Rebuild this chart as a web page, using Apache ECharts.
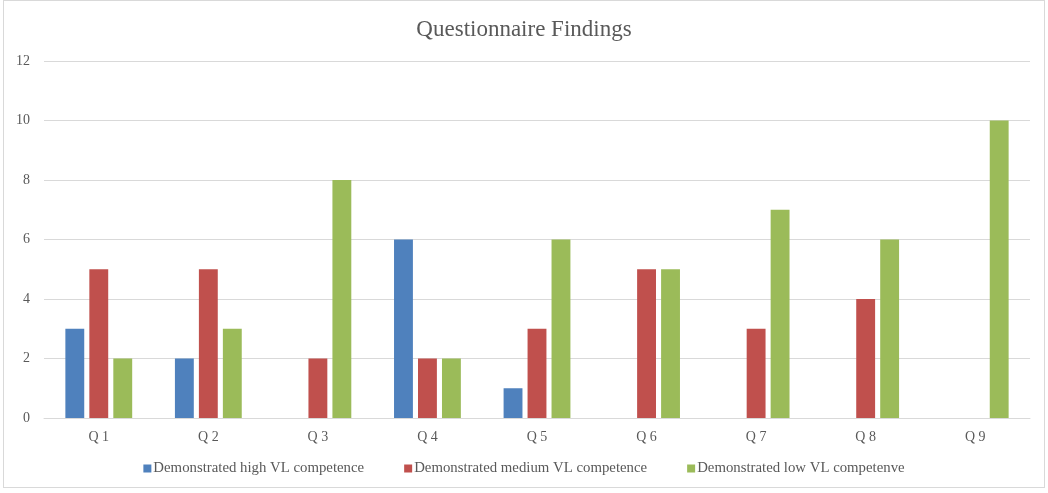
<!DOCTYPE html>
<html>
<head>
<meta charset="utf-8">
<script src="https://cdn.jsdelivr.net/npm/echarts@6/dist/echarts.min.js"></script>
<style>
html,body{margin:0;padding:0;background:#fff;}
#frame{position:absolute;left:3px;top:0px;width:1042px;height:488px;border:1px solid #d9d9d9;box-sizing:border-box;}
#chart{position:absolute;left:0;top:0;width:1048px;height:493px;}
</style>
</head>
<body>
<div id="frame"></div>
<div id="chart"></div>
<script>
const categories = ['Q 1','Q 2','Q 3','Q 4','Q 5','Q 6','Q 7','Q 8','Q 9'];
const highVL = [3, 2, 0, 6, 1, 0, 0, 0, 0];
const mediumVL = [5, 5, 2, 2, 3, 5, 3, 4, 0];
const lowVL = [2, 3, 8, 2, 6, 5, 7, 6, 10];
const seriesNames = ['Demonstrated high VL competence','Demonstrated medium VL competence','Demonstrated low VL competenve'];
const yTicks = [0, 2, 4, 6, 8, 10, 12];

const font = '"Liberation Serif", "DejaVu Serif", serif';
const chart = echarts.init(document.getElementById('chart'), null, {renderer:'canvas'});
chart.setOption({
  animation: false,
  title: {
    text: 'Questionnaire Findings',
    left: 'center',
    top: 13,
    textStyle: {fontFamily: font, fontSize: 23, fontWeight: 'normal', color: '#595959'}
  },
  legend: {
    bottom: 12,
    left: 'center',
    itemWidth: 8,
    itemHeight: 8,
    itemGap: 40,
    icon: 'rect',
    textStyle: {fontFamily: font, fontSize: 14.8, color: '#595959', padding: [0,0,0,-3]},
    data: seriesNames
  },
  grid: {left: 44, right: 18, top: 61, bottom: 75, containLabel: false},
  xAxis: {
    type: 'category',
    data: categories,
    axisLine: {lineStyle: {color: '#d9d9d9'}},
    axisTick: {show: false},
    axisLabel: {fontFamily: font, fontSize: 14, color: '#595959', margin: 12}
  },
  yAxis: {
    type: 'value',
    min: yTicks[0],
    max: yTicks[yTicks.length-1],
    interval: 2,
    axisLine: {show: false},
    axisTick: {show: false},
    splitLine: {lineStyle: {color: '#d9d9d9'}},
    axisLabel: {fontFamily: font, fontSize: 14, color: '#595959', margin: 14}
  },
  series: [
    {name: seriesNames[0], type: 'bar', data: highVL, itemStyle: {color: '#4f81bd'}, barGap: '27%', barCategoryGap: '39%'},
    {name: seriesNames[1], type: 'bar', data: mediumVL, itemStyle: {color: '#c0504d'}, barGap: '27%', barCategoryGap: '39%'},
    {name: seriesNames[2], type: 'bar', data: lowVL, itemStyle: {color: '#9bbb59'}, barGap: '27%', barCategoryGap: '39%'}
  ]
});
</script>
</body>
</html>
